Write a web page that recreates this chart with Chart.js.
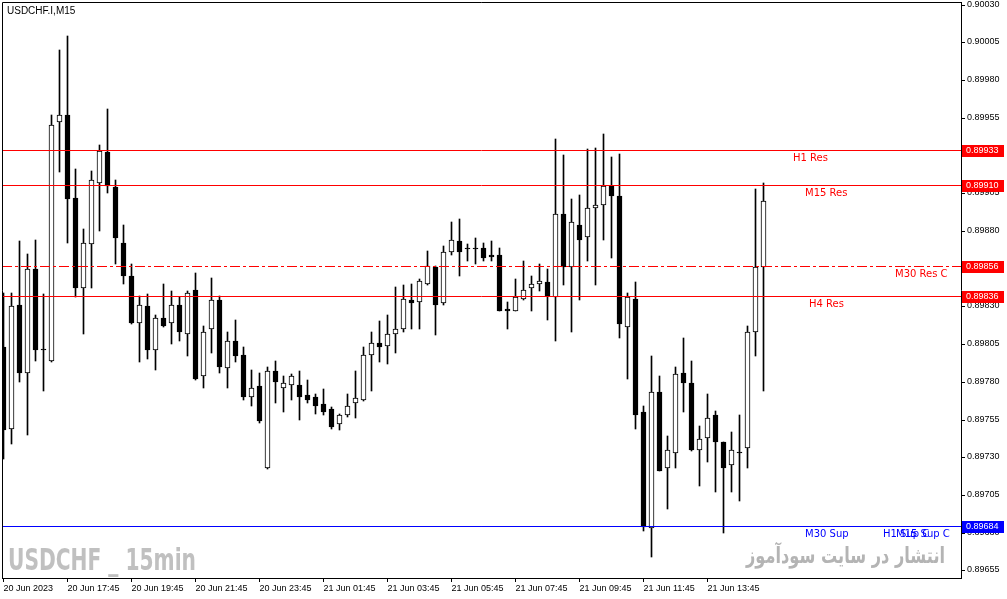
<!DOCTYPE html>
<html>
<head>
<meta charset="utf-8">
<title>USDCHF M15</title>
<script src="https://cdn.jsdelivr.net/npm/chart.js@4.4.1/dist/chart.umd.min.js"></script>
<style>
  html, body { margin: 0; padding: 0; background: #fff; overflow: hidden; }
  #box { position: relative; width: 1007px; height: 599px; }
</style>
</head>
<body>
<div id="box"><canvas id="myChart"></canvas></div>
<script>
// USDCHF.I, M15 - one entry per bar, first bar 20 Jun 2023 15:45

var openP = [
  0.89803, 0.89749, 0.89831, 0.89786, 0.89855, 0.89802, 0.89794, 0.89952, 0.89957, 0.89902,
  0.89842, 0.89871, 0.89912, 0.89932, 0.89909, 0.89872, 0.89850, 0.89819, 0.89830, 0.89801,
  0.89822, 0.89819, 0.89831, 0.89812, 0.89841, 0.89784, 0.89815, 0.89834, 0.89789, 0.89807,
  0.89798, 0.89770, 0.89777, 0.89723, 0.89787, 0.89776, 0.89778, 0.89778, 0.89771, 0.89770,
  0.89765, 0.89762, 0.89752, 0.89758, 0.89766, 0.89768, 0.89798, 0.89806, 0.89804, 0.89812,
  0.89815, 0.89834, 0.89833, 0.89845, 0.89856, 0.89832, 0.89866, 0.89873, 0.89869, 0.89869,
  0.89869, 0.89864, 0.89864, 0.89828, 0.89827, 0.89835, 0.89842, 0.89845, 0.89846, 0.89836,
  0.89891, 0.89856, 0.89884, 0.89876, 0.89895, 0.89897, 0.89910, 0.89903, 0.89816, 0.89835,
  0.89760, 0.89683, 0.89773, 0.89723, 0.89733, 0.89786, 0.89779, 0.89735, 0.89743, 0.89758,
  0.89740, 0.89725, 0.89733, 0.89736, 0.89813, 0.89856
];

var highP = [
  0.89839, 0.89839, 0.89873, 0.89865, 0.89874, 0.89838, 0.89957, 0.90000, 0.90009, 0.89921,
  0.89881, 0.89920, 0.89937, 0.89961, 0.89914, 0.89884, 0.89858, 0.89837, 0.89838, 0.89824,
  0.89845, 0.89840, 0.89836, 0.89840, 0.89852, 0.89817, 0.89849, 0.89837, 0.89813, 0.89821,
  0.89803, 0.89788, 0.89786, 0.89790, 0.89794, 0.89784, 0.89785, 0.89787, 0.89781, 0.89772,
  0.89775, 0.89763, 0.89759, 0.89772, 0.89787, 0.89803, 0.89813, 0.89820, 0.89824, 0.89843,
  0.89844, 0.89845, 0.89848, 0.89867, 0.89857, 0.89870, 0.89886, 0.89888, 0.89871, 0.89875,
  0.89872, 0.89873, 0.89869, 0.89833, 0.89848, 0.89860, 0.89850, 0.89858, 0.89855, 0.89941,
  0.89930, 0.89901, 0.89904, 0.89934, 0.89935, 0.89944, 0.89929, 0.89931, 0.89839, 0.89846,
  0.89764, 0.89797, 0.89784, 0.89744, 0.89790, 0.89809, 0.89794, 0.89751, 0.89772, 0.89761,
  0.89740, 0.89747, 0.89758, 0.89817, 0.89908, 0.89912
];

var lowP = [
  0.89729, 0.89739, 0.89780, 0.89745, 0.89794, 0.89774, 0.89793, 0.89919, 0.89872, 0.89836,
  0.89812, 0.89842, 0.89880, 0.89905, 0.89858, 0.89845, 0.89818, 0.89793, 0.89795, 0.89788,
  0.89816, 0.89805, 0.89807, 0.89797, 0.89781, 0.89776, 0.89799, 0.89786, 0.89776, 0.89793,
  0.89768, 0.89764, 0.89753, 0.89722, 0.89766, 0.89760, 0.89768, 0.89755, 0.89766, 0.89759,
  0.89758, 0.89749, 0.89748, 0.89757, 0.89756, 0.89767, 0.89774, 0.89793, 0.89792, 0.89799,
  0.89813, 0.89815, 0.89815, 0.89844, 0.89811, 0.89831, 0.89864, 0.89850, 0.89860, 0.89858,
  0.89860, 0.89860, 0.89827, 0.89815, 0.89827, 0.89834, 0.89827, 0.89840, 0.89821, 0.89807,
  0.89844, 0.89813, 0.89834, 0.89860, 0.89844, 0.89874, 0.89862, 0.89809, 0.89782, 0.89749,
  0.89681, 0.89664, 0.89721, 0.89696, 0.89723, 0.89760, 0.89734, 0.89711, 0.89727, 0.89707,
  0.89680, 0.89707, 0.89701, 0.89723, 0.89797, 0.89774
];

var closeP = [
  0.89748, 0.89830, 0.89786, 0.89855, 0.89801, 0.89801, 0.89950, 0.89957, 0.89901, 0.89842,
  0.89872, 0.89914, 0.89933, 0.89910, 0.89875, 0.89850, 0.89819, 0.89831, 0.89801, 0.89822,
  0.89817, 0.89831, 0.89813, 0.89839, 0.89782, 0.89813, 0.89834, 0.89790, 0.89807, 0.89797,
  0.89770, 0.89776, 0.89754, 0.89787, 0.89780, 0.89779, 0.89784, 0.89770, 0.89768, 0.89764,
  0.89760, 0.89750, 0.89758, 0.89764, 0.89769, 0.89798, 0.89806, 0.89803, 0.89812, 0.89815,
  0.89835, 0.89832, 0.89847, 0.89857, 0.89831, 0.89866, 0.89874, 0.89866, 0.89868, 0.89868,
  0.89862, 0.89863, 0.89827, 0.89827, 0.89836, 0.89841, 0.89845, 0.89847, 0.89837, 0.89891,
  0.89856, 0.89886, 0.89874, 0.89895, 0.89897, 0.89910, 0.89903, 0.89818, 0.89836, 0.89758,
  0.89684, 0.89773, 0.89721, 0.89735, 0.89785, 0.89779, 0.89735, 0.89742, 0.89756, 0.89740,
  0.89723, 0.89735, 0.89733, 0.89813, 0.89856, 0.89900
];

// time labels along the bottom, one every 8 bars
var timeLabels = ['20 Jun 2023', '20 Jun 17:45', '20 Jun 19:45', '20 Jun 21:45', '20 Jun 23:45',
  '21 Jun 01:45', '21 Jun 03:45', '21 Jun 05:45', '21 Jun 07:45', '21 Jun 09:45',
  '21 Jun 11:45', '21 Jun 13:45'];
var barsPerLabel = 8;

// price labels on the right
var priceTicks = [0.89655, 0.89680, 0.89705, 0.89730, 0.89755, 0.89780, 0.89805, 0.89830,
  0.89855, 0.89880, 0.89905, 0.89930, 0.89955, 0.89980, 0.90005, 0.90030];

// support / resistance lines
var levelNames = ['H1 Res', 'M15 Res', 'M30 Res C', 'H4 Res', 'M30 Sup', 'H1 Sup C', 'M15 Sup C'];
var levelValues = [0.89933, 0.89910, 0.89856, 0.89836, 0.89684, 0.89684, 0.89684];

// where the level names sit (pixels from the left)
var levelLabelX = [793, 805, 895, 809, 805, 883, 896];

var xMin = -0.1875, xMax = 119.6875;
var yMin = 0.8965003, yMax = 0.9003166;

var axisFont = { family: "'Liberation Sans', Arial, sans-serif", size: 9 };

function levelColor(name) {
  return name.indexOf('Res') >= 0 ? '#ff0000' : '#0000ff';
}

var bars = openP.map(function (o, i) { return i; });

var wickSet = {
  label: 'range',
  data: bars.map(function (i) { return { x: i, y: [lowP[i], highP[i]] }; }),
  backgroundColor: '#000',
  borderWidth: 0,
  barThickness: 1,
  grouped: false,
  order: 2
};

var bodySet = {
  label: 'body',
  data: bars.map(function (i) {
    return { x: i, y: [Math.min(openP[i], closeP[i]), Math.max(openP[i], closeP[i])] };
  }),
  backgroundColor: bars.map(function (i) { return closeP[i] > openP[i] ? '#fff' : '#000'; }),
  borderColor: '#000',
  borderWidth: 1,
  borderSkipped: false,
  barThickness: 5,
  minBarLength: 1,
  grouped: false,
  order: 1
};

var levelSets = levelValues.map(function (v, j) {
  return {
    type: 'line',
    label: levelNames[j],
    data: [{ x: xMin, y: v }, { x: xMax, y: v }],
    borderColor: levelColor(levelNames[j]),
    borderWidth: 1,
    borderDash: levelNames[j] === 'M30 Res C' ? [10, 3, 3, 3] : [],
    pointRadius: 0,
    fill: false,
    order: 0
  };
});

// fit a text into a given width by squeezing it horizontally
function fitText(ctx, text, x, y, width, font, color, align) {
  ctx.save();
  ctx.font = font;
  ctx.fillStyle = color;
  ctx.textAlign = align;
  ctx.textBaseline = 'alphabetic';
  var w = ctx.measureText(text).width;
  ctx.translate(x, y);
  ctx.scale(width / w, 1);
  ctx.fillText(text, 0, 0);
  ctx.restore();
}

var decor = {
  id: 'decor',
  beforeDatasetsDraw: function (chart) {
    var ctx = chart.ctx;
    fitText(ctx, 'USDCHF _ 15min', 8, 570, 188,
      "bold 30px 'Liberation Sans Narrow', 'DejaVu Sans Condensed', sans-serif", '#c0c0c0', 'left');
    fitText(ctx, 'انتشار در سایت سودآموز', 945, 563, 199,
      "bold 22px 'DejaVu Sans', sans-serif", '#b4b4b4', 'right');
  },
  // level lines land on whole pixels, shift half a pixel so they stay sharp
  beforeDatasetDraw: function (chart, args) {
    if (args.meta.type === 'line') {
      chart.ctx.save();
      chart.ctx.translate(0, -0.5);
    }
  },
  afterDatasetDraw: function (chart, args) {
    if (args.meta.type === 'line') chart.ctx.restore();
  },
  afterDatasetsDraw: function (chart) {
    var ctx = chart.ctx, ys = chart.scales.y;
    ctx.save();
    ctx.font = "10px 'DejaVu Sans', sans-serif";
    ctx.textBaseline = 'alphabetic';
    ctx.textAlign = 'left';
    levelNames.forEach(function (name, j) {
      var py = ys.getPixelForValue(levelValues[j]);
      ctx.fillStyle = levelColor(name);
      ctx.fillText(name, levelLabelX[j], py + 10);
    });
    ctx.restore();
  },
  afterDraw: function (chart) {
    var ctx = chart.ctx, a = chart.chartArea, ys = chart.scales.y;
    ctx.save();
    // frame, left and top (right and bottom come from the axes)
    ctx.strokeStyle = '#000';
    ctx.lineWidth = 1;
    ctx.beginPath();
    ctx.moveTo(a.left + 0.5, a.bottom);
    ctx.lineTo(a.left + 0.5, a.top + 0.5);
    ctx.lineTo(a.right, a.top + 0.5);
    ctx.stroke();

    // symbol and timeframe
    ctx.fillStyle = '#000';
    ctx.font = "10px 'Liberation Sans', Arial, sans-serif";
    ctx.textBaseline = 'alphabetic';
    ctx.fillText('USDCHF.I,M15', 7, 14);

    // price tags of the levels on the axis
    ctx.font = "9px 'Liberation Sans', Arial, sans-serif";
    ctx.textBaseline = 'middle';
    var done = {};
    levelValues.forEach(function (v, j) {
      if (done[v]) return;
      done[v] = true;
      var py = ys.getPixelForValue(v) - 1;
      ctx.fillStyle = levelColor(levelNames[j]);
      ctx.fillRect(a.right + 1, py - 5, 42, 12);
      ctx.fillStyle = '#fff';
      ctx.fillText(v.toFixed(5), a.right + 5, py + 1);
    });
    ctx.restore();
  }
};

var ctx = document.getElementById('myChart');
var myChart = new Chart(ctx, {
  type: 'bar',
  data: {
    datasets: levelSets.concat([bodySet, wickSet])
  },
  options: {
    responsive: true,
    maintainAspectRatio: false,
    animation: false,
    devicePixelRatio: 1,
    layout: { padding: { left: 2, top: 2, right: 0, bottom: 0 } },
    plugins: {
      legend: { display: false },
      tooltip: { enabled: false }
    },
    scales: {
      x: {
        type: 'linear',
        position: 'bottom',
        min: xMin,
        max: xMax,
        offset: false,
        bounds: 'data',
        grid: { offset: false, drawOnChartArea: false, drawTicks: true, tickLength: 4, color: '#000' },
        border: { color: '#000', width: 1 },
        ticks: {
          autoSkip: false,
          maxRotation: 0,
          minRotation: 0,
          align: 'start',
          padding: 1,
          color: '#000',
          font: axisFont,
          callback: function (v) { return timeLabels[Math.round(v / barsPerLabel)]; }
        },
        afterBuildTicks: function (s) {
          s.ticks = timeLabels.map(function (t, k) { return { value: k * barsPerLabel }; });
        },
        afterFit: function (s) { s.height = 21; s.paddingLeft = 0; s.paddingRight = 0; }
      },
      y: {
        type: 'linear',
        position: 'right',
        min: yMin,
        max: yMax,
        bounds: 'data',
        beginAtZero: false,
        alignToPixels: true,
        grid: { drawOnChartArea: false, drawTicks: true, tickLength: 4, color: '#000' },
        border: { color: '#000', width: 1 },
        ticks: {
          padding: 2,
          color: '#000',
          font: axisFont,
          callback: function (v) { return v.toFixed(5); }
        },
        afterBuildTicks: function (s) {
          s.ticks = priceTicks.map(function (v) { return { value: v }; });
        },
        afterFit: function (s) { s.width = 46; s.paddingTop = 0; s.paddingBottom = 0; }
      }
    }
  },
  plugins: [decor]
});
</script>
</body>
</html>
